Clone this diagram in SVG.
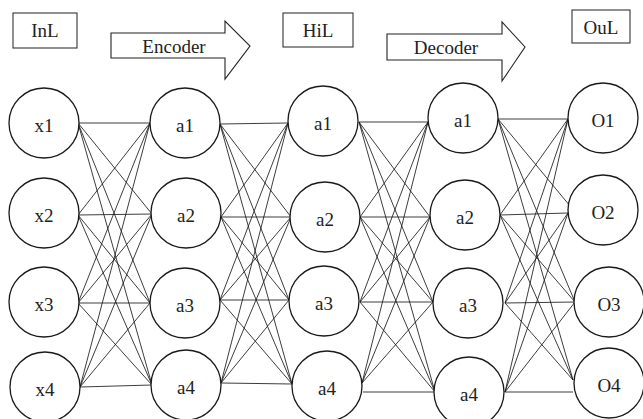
<svg xmlns="http://www.w3.org/2000/svg" width="643" height="419" viewBox="0 0 643 419">
  <style>
    .node circle { fill: #ffffff; stroke: #1a1a1a; stroke-width: 1.3; }
    .lbl { font-family: "Liberation Serif", "DejaVu Serif", serif; font-size: 19px; fill: #222222; text-anchor: middle; }
    .hdr { font-family: "Liberation Serif", "DejaVu Serif", serif; font-size: 19px; fill: #222222; text-anchor: middle; }
    .box { fill: #ffffff; stroke: #333333; stroke-width: 1.1; }
    .arrow { fill: #ffffff; stroke: #222222; stroke-width: 1.1; stroke-linejoin: miter; }
    #connectors line { stroke: #1a1a1a; stroke-width: 0.85; }
  </style>
  <rect width="643" height="419" fill="#ffffff"/>

  <!-- layer headers -->
  <g id="hdr-inl">
    <rect class="box" x="13" y="13" width="64" height="35"/>
    <text class="hdr" x="45" y="37">InL</text>
  </g>
  <g id="hdr-encoder">
    <polygon class="arrow" points="111,33 225,33 225,21 250,46 225,79 225,58 111,58"/>
    <text class="hdr" x="174" y="53">Encoder</text>
  </g>
  <g id="hdr-hil">
    <rect class="box" x="283" y="13" width="70" height="34"/>
    <text class="hdr" x="318" y="37">HiL</text>
  </g>
  <g id="hdr-decoder">
    <polygon class="arrow" points="387,34 502,34 502,22 525,47 502,81 502,60 387,60"/>
    <text class="hdr" x="446" y="54">Decoder</text>
  </g>
  <g id="hdr-oul">
    <rect class="box" x="572" y="10" width="58" height="33"/>
    <text class="hdr" x="601" y="34">OuL</text>
  </g>

  <!-- fully connected edges between consecutive layers -->
  <g id="connectors">
    <!-- input -> encoder layer -->
    <line x1="78" y1="123" x2="150" y2="123"/>
    <line x1="78" y1="123" x2="152" y2="214"/>
    <line x1="78" y1="123" x2="150" y2="303"/>
    <line x1="78" y1="123" x2="152" y2="385"/>
    <line x1="78" y1="215" x2="150" y2="123"/>
    <line x1="78" y1="215" x2="152" y2="214"/>
    <line x1="78" y1="215" x2="150" y2="303"/>
    <line x1="78" y1="215" x2="152" y2="385"/>
    <line x1="78" y1="303" x2="150" y2="123"/>
    <line x1="78" y1="303" x2="152" y2="214"/>
    <line x1="78" y1="303" x2="150" y2="303"/>
    <line x1="78" y1="303" x2="152" y2="385"/>
    <line x1="80" y1="387" x2="150" y2="123"/>
    <line x1="80" y1="387" x2="152" y2="214"/>
    <line x1="80" y1="387" x2="150" y2="303"/>
    <line x1="80" y1="387" x2="152" y2="385"/>
    <!-- encoder layer -> hidden layer -->
    <line x1="220" y1="124" x2="288" y2="123"/>
    <line x1="220" y1="124" x2="291" y2="217"/>
    <line x1="220" y1="124" x2="289" y2="300"/>
    <line x1="220" y1="124" x2="292" y2="384"/>
    <line x1="221" y1="217" x2="288" y2="123"/>
    <line x1="221" y1="217" x2="291" y2="217"/>
    <line x1="221" y1="217" x2="289" y2="300"/>
    <line x1="221" y1="217" x2="292" y2="384"/>
    <line x1="220" y1="300" x2="288" y2="123"/>
    <line x1="220" y1="300" x2="291" y2="217"/>
    <line x1="220" y1="300" x2="289" y2="300"/>
    <line x1="220" y1="300" x2="292" y2="384"/>
    <line x1="221" y1="383" x2="288" y2="123"/>
    <line x1="221" y1="383" x2="291" y2="217"/>
    <line x1="221" y1="383" x2="289" y2="300"/>
    <line x1="221" y1="383" x2="292" y2="384"/>
    <!-- hidden layer -> decoder layer -->
    <line x1="359" y1="122" x2="428" y2="122"/>
    <line x1="359" y1="122" x2="430" y2="217"/>
    <line x1="359" y1="122" x2="433" y2="302"/>
    <line x1="359" y1="122" x2="435" y2="392"/>
    <line x1="360" y1="217" x2="428" y2="122"/>
    <line x1="360" y1="217" x2="430" y2="217"/>
    <line x1="360" y1="217" x2="433" y2="302"/>
    <line x1="360" y1="217" x2="435" y2="392"/>
    <line x1="360" y1="302" x2="428" y2="122"/>
    <line x1="360" y1="302" x2="430" y2="217"/>
    <line x1="360" y1="302" x2="433" y2="302"/>
    <line x1="360" y1="302" x2="435" y2="392"/>
    <line x1="362" y1="383" x2="428" y2="122"/>
    <line x1="362" y1="383" x2="430" y2="217"/>
    <line x1="362" y1="383" x2="433" y2="302"/>
    <line x1="363" y1="392" x2="435" y2="392"/>
    <!-- decoder layer -> output -->
    <line x1="498" y1="119" x2="568" y2="119"/>
    <line x1="498" y1="119" x2="575" y2="212"/>
    <line x1="498" y1="119" x2="575" y2="302"/>
    <line x1="498" y1="119" x2="573" y2="380"/>
    <line x1="500" y1="215" x2="568" y2="119"/>
    <line x1="500" y1="215" x2="568" y2="213"/>
    <line x1="500" y1="215" x2="575" y2="302"/>
    <line x1="500" y1="215" x2="573" y2="380"/>
    <line x1="505" y1="303" x2="568" y2="119"/>
    <line x1="505" y1="303" x2="568" y2="213"/>
    <line x1="505" y1="303" x2="575" y2="302"/>
    <line x1="505" y1="303" x2="573" y2="380"/>
    <line x1="505" y1="392" x2="568" y2="119"/>
    <line x1="505" y1="392" x2="568" y2="213"/>
    <line x1="505" y1="392" x2="575" y2="302"/>
    <line x1="505" y1="392" x2="573" y2="392"/>
  </g>

  <!-- input layer -->
  <g id="x1" class="node"><circle cx="44" cy="123" r="35"/><text class="lbl" x="44" y="132">x1</text></g>
  <g id="x2" class="node"><circle cx="44" cy="213" r="35"/><text class="lbl" x="44" y="222">x2</text></g>
  <g id="x3" class="node"><circle cx="44" cy="302" r="35"/><text class="lbl" x="44" y="311">x3</text></g>
  <g id="x4" class="node"><circle cx="45" cy="387" r="35"/><text class="lbl" x="45" y="396">x4</text></g>

  <!-- encoder layer -->
  <g id="e1" class="node"><circle cx="185" cy="123" r="35"/><text class="lbl" x="185" y="132">a1</text></g>
  <g id="e2" class="node"><circle cx="186" cy="213" r="35"/><text class="lbl" x="186" y="222">a2</text></g>
  <g id="e3" class="node"><circle cx="185" cy="303" r="35"/><text class="lbl" x="185" y="312">a3</text></g>
  <g id="e4" class="node"><circle cx="186" cy="385" r="35"/><text class="lbl" x="186" y="394">a4</text></g>

  <!-- hidden layer -->
  <g id="h1" class="node"><circle cx="323" cy="121" r="35"/><text class="lbl" x="323" y="130">a1</text></g>
  <g id="h2" class="node"><circle cx="325" cy="217" r="35"/><text class="lbl" x="325" y="226">a2</text></g>
  <g id="h3" class="node"><circle cx="324" cy="301" r="35"/><text class="lbl" x="324" y="310">a3</text></g>
  <g id="h4" class="node"><circle cx="327" cy="386" r="35"/><text class="lbl" x="327" y="395">a4</text></g>

  <!-- decoder layer -->
  <g id="d1" class="node"><circle cx="463" cy="118" r="35"/><text class="lbl" x="463" y="127">a1</text></g>
  <g id="d2" class="node"><circle cx="465" cy="215" r="35"/><text class="lbl" x="465" y="224">a2</text></g>
  <g id="d3" class="node"><circle cx="468" cy="303" r="35"/><text class="lbl" x="468" y="312">a3</text></g>
  <g id="d4" class="node"><circle cx="469" cy="392" r="35"/><text class="lbl" x="469" y="401">a4</text></g>

  <!-- output layer -->
  <g id="o1" class="node"><circle cx="603" cy="118" r="35"/><text class="lbl" x="603" y="127">O1</text></g>
  <g id="o2" class="node"><circle cx="603" cy="210" r="35"/><text class="lbl" x="603" y="219">O2</text></g>
  <g id="o3" class="node"><circle cx="609" cy="302" r="35"/><text class="lbl" x="609" y="311">O3</text></g>
  <g id="o4" class="node"><circle cx="609" cy="383" r="35"/><text class="lbl" x="609" y="392">O4</text></g>
</svg>
